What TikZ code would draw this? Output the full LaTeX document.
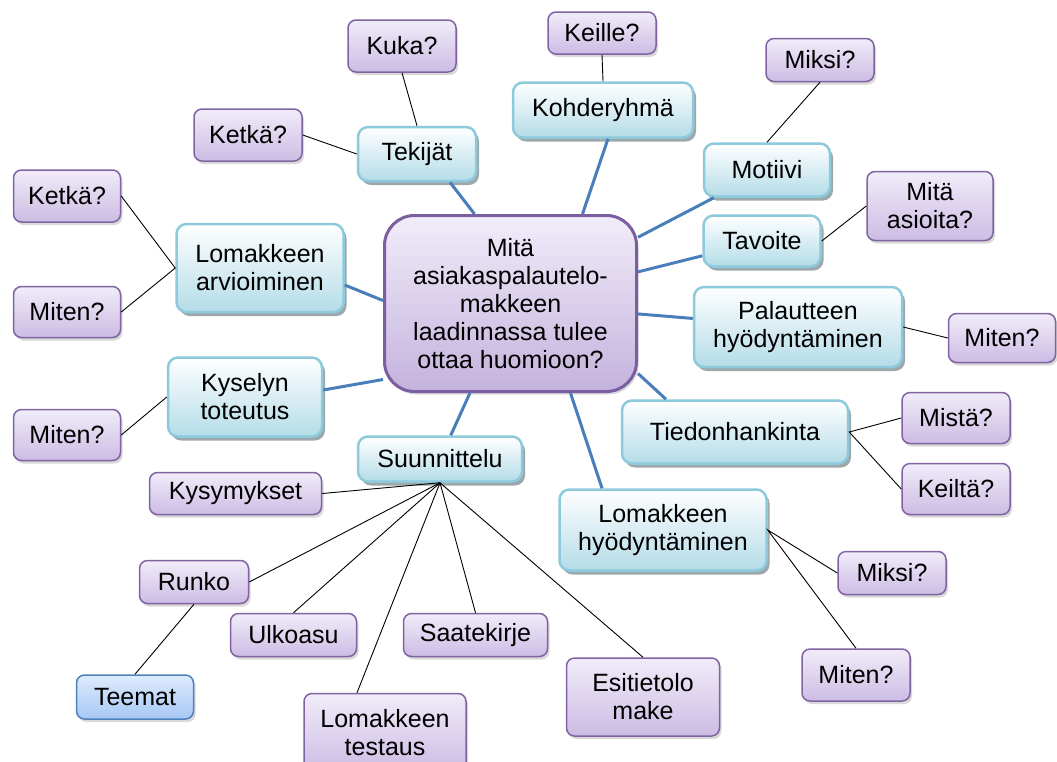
\documentclass[tikz,border=0pt]{standalone}
\usepackage{fontspec}
\setmainfont{Liberation Sans}
\usetikzlibrary{shadows}
\definecolor{viiva}{RGB}{74,126,187}
\definecolor{lehtireuna}{RGB}{128,100,162}
\definecolor{lehtiyla}{RGB}{241,236,249}
\definecolor{lehtiala}{RGB}{204,188,228}
\definecolor{haarareuna}{RGB}{140,202,220}
\definecolor{haaraala}{RGB}{180,220,232}
\definecolor{keskireuna}{RGB}{122,94,160}
\definecolor{teemareuna}{RGB}{79,129,189}
\definecolor{teemayla}{RGB}{222,235,252}
\definecolor{teema-ala}{RGB}{166,200,245}

\begin{document}
\begin{tikzpicture}[%
  x=1pt, y=-1pt,
  font=\fontsize{25}{28}\selectfont,
  lehti/.style={rectangle, rounded corners=8pt, align=center, inner sep=0pt,
    draw=lehtireuna, line width=1.5pt, top color=lehtiyla, bottom color=lehtiala,
    drop shadow={shadow xshift=2pt, shadow yshift=-3pt, opacity=0.3}},
  haara/.style={rectangle, rounded corners=10pt, align=center, inner sep=0pt,
    draw=haarareuna, line width=2.5pt, top color=white, bottom color=haaraala,
    drop shadow={shadow xshift=3pt, shadow yshift=-4pt, fill=black!50!haaraala, opacity=0.6}},
  keski/.style={rectangle, rounded corners=30pt, align=center, inner sep=0pt,
    draw=keskireuna, line width=3pt, top color=lehtiyla, bottom color=lehtiala!90!keskireuna,
    drop shadow={shadow xshift=2pt, shadow yshift=-3pt, opacity=0.3}},
  teema/.style={rectangle, rounded corners=8pt, align=center, inner sep=0pt,
    draw=teemareuna, line width=1.5pt, top color=teemayla, bottom color=teema-ala,
    drop shadow={shadow xshift=2pt, shadow yshift=-3pt, opacity=0.3}},
  paa/.style={line width=3pt, viiva},
  ohut/.style={line width=0.9pt, black},
]
  \useasboundingbox (0,0) rectangle (1057,761);

  \node[keski, minimum width=252pt, minimum height=176pt] (keskus) at (510.5,303.5)
    {Mitä\\asiakaspalautelo-\\makkeen\\laadinnassa tulee\\ottaa huomioon?};

  \node[haara, minimum width=118pt, minimum height=54pt] (tekijat) at (417,154) {Tekijät};
  \node[haara, minimum width=180pt, minimum height=55pt] (kohde) at (603,110) {Kohderyhmä};
  \node[haara, minimum width=126pt, minimum height=53pt] (motiivi) at (767,170) {Motiivi};
  \node[haara, minimum width=117pt, minimum height=51pt] (tavoite) at (762,241) {Tavoite};
  \node[haara, minimum width=208pt, minimum height=80pt] (palaute) at (798,327) {Palautteen\\hyödyntäminen};
  \node[haara, minimum width=226pt, minimum height=63pt] (tiedon) at (735,432) {Tiedonhankinta};
  \node[haara, minimum width=207pt, minimum height=81pt] (hyoty) at (663,530) {Lomakkeen\\hyödyntäminen};
  \node[haara, minimum width=164pt, minimum height=45pt] (suunn) at (440,459) {Suunnittelu};
  \node[haara, minimum width=154pt, minimum height=79pt] (kysely) at (245,397) {Kyselyn\\toteutus};
  \node[haara, minimum width=167pt, minimum height=88pt] (arvio) at (260,268) {Lomakkeen\\arvioiminen};

  \node[lehti, minimum width=108pt, minimum height=52pt] (kuka) at (402,46) {Kuka?};
  \node[lehti, minimum width=108pt, minimum height=52pt] (ketka) at (248,135) {Ketkä?};
  \node[lehti, minimum width=108pt, minimum height=42pt] (keille) at (602,33) {Keille?};
  \node[lehti, minimum width=108pt, minimum height=43pt] (miksi) at (820,60) {Miksi?};
  \node[lehti, minimum width=126pt, minimum height=69pt] (asiat) at (930,206) {Mitä\\asioita?};
  \node[lehti, minimum width=107pt, minimum height=49pt] (mitenp) at (1002,338) {Miten?};
  \node[lehti, minimum width=108pt, minimum height=51pt] (mista) at (956,418) {Mistä?};
  \node[lehti, minimum width=108pt, minimum height=51pt] (keilta) at (956,489) {Keiltä?};
  \node[lehti, minimum width=108pt, minimum height=43pt] (miksih) at (892,573) {Miksi?};
  \node[lehti, minimum width=108pt, minimum height=52pt] (mitenh) at (856,675) {Miten?};
  \node[lehti, minimum width=153pt, minimum height=78pt] (esitieto) at (643,697) {Esitietolo\\make};
  \node[lehti, minimum width=162pt, minimum height=79pt] (testaus) at (385,733) {Lomakkeen\\testaus};
  \node[lehti, minimum width=144pt, minimum height=43pt] (saate) at (475.5,635) {Saatekirje};
  \node[lehti, minimum width=126pt, minimum height=43pt] (ulkoasu) at (293.5,635) {Ulkoasu};
  \node[lehti, minimum width=109pt, minimum height=43pt] (runko) at (194,582) {Runko};
  \node[teema, minimum width=117pt, minimum height=44pt] (teemat) at (135,697) {Teemat};
  \node[lehti, minimum width=172pt, minimum height=42pt] (kysymys) at (235.5,493.5) {Kysymykset};
  \node[lehti, minimum width=107pt, minimum height=51pt] (mitenk) at (67,435) {Miten?};
  \node[lehti, minimum width=107pt, minimum height=52pt] (ketkaa) at (67,196) {Ketkä?};
  \node[lehti, minimum width=107pt, minimum height=51pt] (mitena) at (67,312) {Miten?};

  \draw[paa] ([xshift=-36pt]keskus.north) -- ([xshift=33pt]tekijat.south);
  \draw[paa] ([xshift=72pt]keskus.north) -- ([xshift=5pt]kohde.south);
  \draw[paa] (keskus) -- (motiivi);
  \draw[paa] (keskus) -- (tavoite);
  \draw[paa] (keskus) -- (palaute);
  \draw[paa] ([yshift=-70pt]keskus.east) -- ([xshift=-69pt]tiedon.north);
  \draw[paa] ([xshift=60pt]keskus.south) -- ([xshift=-61pt]hyoty.north);
  \draw[paa] (keskus) -- (suunn);
  \draw[paa] ([yshift=-76pt]keskus.west) -- ([yshift=7pt]kysely.east);
  \draw[paa] ([yshift=3pt]keskus.west) -- ([yshift=-17pt]arvio.east);

  \draw[ohut] (kuka.south) -- (tekijat.north);
  \draw[ohut] (ketka.east) -- (tekijat.west);
  \draw[ohut] (keille.south) -- (kohde.north);
  \draw[ohut] (miksi.south) -- (motiivi.north);
  \draw[ohut] (tavoite.east) -- (asiat.west);
  \draw[ohut] (palaute.east) -- (mitenp.west);
  \draw[ohut] (mista.west) -- (tiedon.east) -- (keilta.west);
  \draw[ohut] (miksih.west) -- (hyoty.east) -- (mitenh.north);
  \draw[ohut] (ketkaa.east) -- (arvio.west) -- (mitena.east);
  \draw[ohut] (kysely.west) -- (mitenk.east);
  \draw[ohut] (runko.south) -- (teemat.north);

  \draw[ohut] (suunn.south) -- (kysymys.east);
  \draw[ohut] (suunn.south) -- (runko.east);
  \draw[ohut] (suunn.south) -- (ulkoasu.north);
  \draw[ohut] (suunn.south) -- ([xshift=-28pt]testaus.north);
  \draw[ohut] (suunn.south) -- (saate.north);
  \draw[ohut] (suunn.south) -- (esitieto.north);

\end{tikzpicture}
\end{document}
